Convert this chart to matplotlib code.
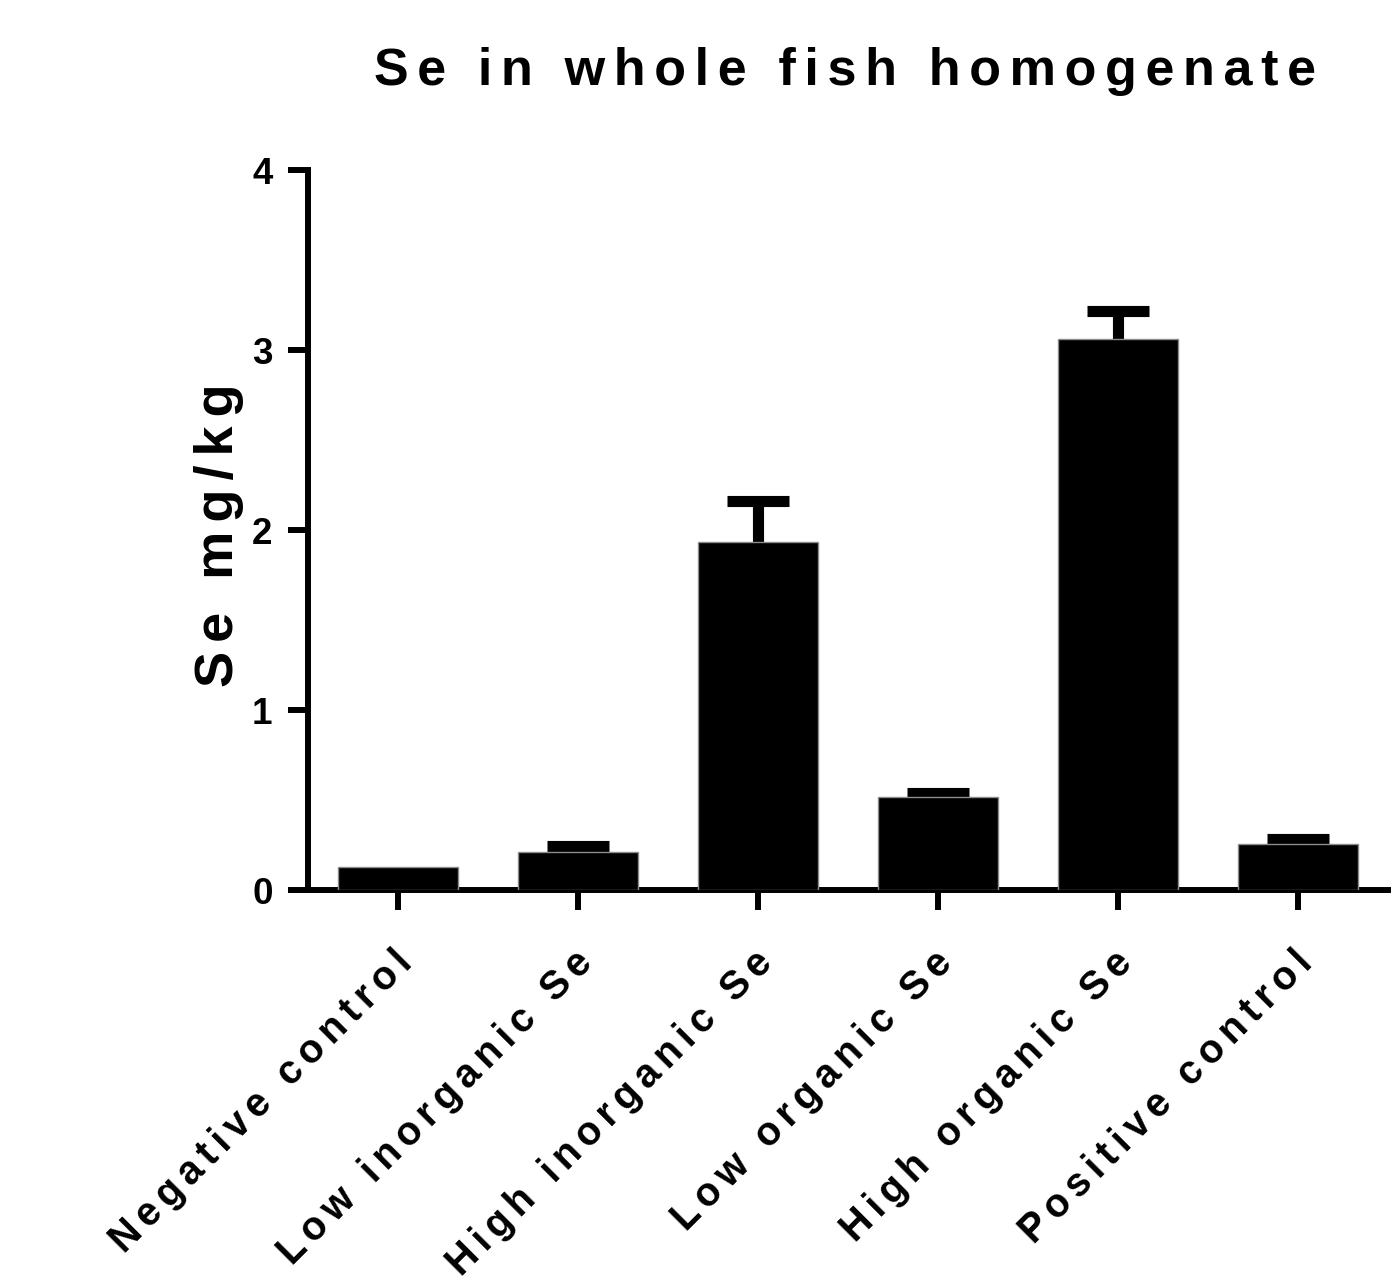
import matplotlib
matplotlib.use('Agg')
import matplotlib.pyplot as plt
import matplotlib.transforms as mtransforms
import numpy as np

categories = ['Negative control', 'Low inorganic Se', 'High inorganic Se',
              'Low organic Se', 'High organic Se', 'Positive control']
means = [0.128, 0.211, 1.933, 0.518, 3.061, 0.256]
errors = [0.0, 0.032, 0.228, 0.020, 0.156, 0.025]
y_ticks = [0, 1, 2, 3, 4]
title = 'Se in whole fish homogenate'
ylabel = 'Se mg/kg'

SIXEM = '\u2006'


def spaced(s, ch=SIXEM):
    return ch.join(s)


plt.rcParams['font.family'] = ['Liberation Sans', 'DejaVu Sans']
plt.rcParams['font.weight'] = 'bold'

W, H = 1391, 1278
fig = plt.figure(figsize=(W / 100, H / 100), dpi=100)
ax = fig.add_axes([308 / W, 1 - 890 / H, 1 - 308 / W, (890 - 170) / H])

x = np.arange(len(categories))
m = np.array(means)
e = np.array(errors)
ax.bar(x, m, width=0.67, color='black', edgecolor='#8c8c8c', linewidth=1.0, zorder=3)
mask = e > 0
ax.vlines(x[mask], m[mask], m[mask] + e[mask], color='black', lw=8, zorder=2)
ax.hlines(m[mask] + e[mask], x[mask] - 0.17, x[mask] + 0.17, color='black', lw=8, zorder=2)

ax.set_xlim(-0.5, (1391 - 398) / 180)
ax.set_ylim(0, 4)

for s in ['top', 'right']:
    ax.spines[s].set_visible(False)
for s in ['left', 'bottom']:
    ax.spines[s].set_linewidth(4.3)
ax.tick_params(axis='both', direction='out', length=14.5, width=4.3, colors='black')
ax.tick_params(axis='y', pad=11)
ax.tick_params(axis='x', pad=24)

ax.set_yticks(y_ticks)
ax.set_yticklabels([str(t) for t in y_ticks], fontsize=26.5, fontweight='bold')
ax.set_xticks(x)
ax.set_xticklabels([spaced(c) for c in categories], rotation=45,
                   ha='right', va='top', fontsize=28.5, fontweight='bold')
off = mtransforms.ScaledTranslation(22 / 100, 0, fig.dpi_scale_trans)
for lab in ax.get_xticklabels():
    lab.set_transform(lab.get_transform() + off)

fig.text(845 / W, 1 - 85 / H, spaced(title), ha='center', va='baseline',
         fontsize=37.5, fontweight='bold')
fig.text(233 / W, 1 - 535 / H, spaced(ylabel), ha='center', va='baseline',
         rotation=90, rotation_mode='anchor', fontsize=39, fontweight='bold')

fig.savefig('out.png', dpi=100)
